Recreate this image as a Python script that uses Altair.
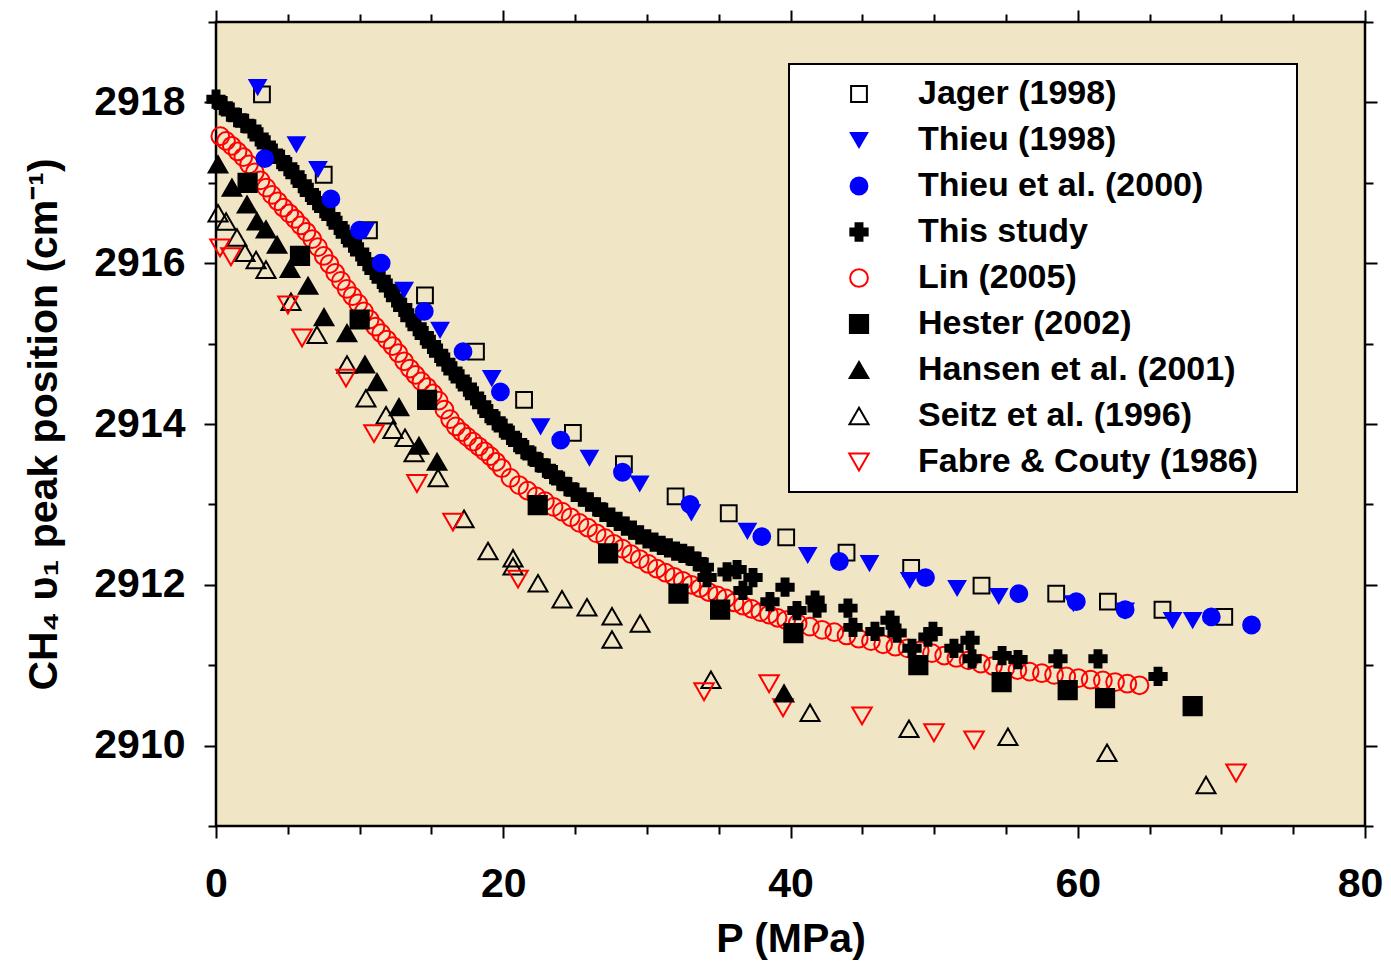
import altair as alt
import pandas as pd

# ---------------- data ----------------
series_order = [
    "Jager (1998)", "Thieu (1998)", "Thieu et al. (2000)", "This study",
    "Lin (2005)", "Hester (2002)", "Hansen et al. (2001)",
    "Seitz et al. (1996)", "Fabre & Couty (1986)",
]

jager_p = [3.2, 7.5, 10.65, 14.55, 18.1, 21.45, 24.85, 28.4, 32.0, 35.7, 39.7, 43.9,
           48.4, 53.3, 58.5, 62.1, 65.9, 70.2]
jager_v = [2918.10, 2917.10, 2916.41, 2915.60, 2914.90, 2914.30, 2913.89, 2913.50,
           2913.10, 2912.89, 2912.59, 2912.40, 2912.21, 2911.99, 2911.89, 2911.79,
           2911.69, 2911.60]

thieu98_p = [2.9, 5.6, 7.1, 10.4, 13.1, 15.6, 19.2, 22.6, 26.0, 29.5, 33.1, 37.0, 41.2,
             45.5, 48.3, 51.6, 54.5, 59.7, 63.3, 66.6, 68.0]
thieu98_v = [2918.19, 2917.48, 2917.17, 2916.41, 2915.67, 2915.17, 2914.57, 2913.97,
             2913.58, 2913.26, 2912.90, 2912.67, 2912.37, 2912.27, 2912.06, 2911.96,
             2911.86, 2911.77, 2911.68, 2911.56, 2911.56]

thieu00_p = [3.4, 8.0, 10.0, 11.5, 14.5, 17.2, 19.8, 24.0, 28.3, 33.0, 38.0, 43.4, 49.4,
             55.9, 59.9, 63.3, 69.3, 72.1]
thieu00_v = [2917.30, 2916.80, 2916.41, 2916.00, 2915.40, 2914.90, 2914.40, 2913.80,
             2913.40, 2913.00, 2912.60, 2912.29, 2912.09, 2911.89, 2911.79, 2911.69,
             2911.60, 2911.50]

study_p = [0.0, 0.5, 1.0, 1.5, 2.0, 2.5, 3.0, 3.5, 4.0, 4.5, 5.0, 5.5, 6.0, 6.5, 7.0, 7.5,
           8.0, 8.5, 9.0, 9.5, 10.0, 10.5, 11.0, 11.5, 12.0, 12.5, 13.0, 13.5, 14.0, 14.5,
           15.0, 15.5, 16.0, 16.5, 17.0, 17.5, 18.0, 18.5, 19.0, 19.5, 20.0, 20.5, 21.0,
           21.5, 22.0, 22.5, 23.0, 23.5, 24.0, 24.5, 25.0, 25.5, 26.0, 26.5, 27.0, 27.5,
           28.0, 28.5, 29.0, 29.5, 30.0, 30.5, 31.0, 31.5, 32.0, 32.5, 33.0, 33.5, 34.0,
           34.19, 35.58, 36.28, 37.39, 36.69, 38.57, 39.62, 40.45, 41.71, 41.85, 44.0,
           44.35, 45.88, 46.93, 47.42, 48.46, 49.57, 49.92, 51.38, 52.5, 52.64, 54.73,
           55.84, 58.62, 61.41, 65.59]
study_v = [2918.04, 2917.96, 2917.88, 2917.81, 2917.74, 2917.67, 2917.57, 2917.47,
           2917.37, 2917.29, 2917.20, 2917.10, 2916.99, 2916.88, 2916.78, 2916.68,
           2916.58, 2916.47, 2916.36, 2916.25, 2916.14, 2916.02, 2915.91, 2915.80,
           2915.69, 2915.57, 2915.45, 2915.32, 2915.21, 2915.10, 2914.99, 2914.88,
           2914.77, 2914.66, 2914.56, 2914.46, 2914.35, 2914.24, 2914.13, 2914.04,
           2913.95, 2913.86, 2913.77, 2913.68, 2913.60, 2913.52, 2913.45, 2913.37,
           2913.29, 2913.22, 2913.15, 2913.09, 2913.03, 2912.97, 2912.90, 2912.84,
           2912.79, 2912.73, 2912.68, 2912.62, 2912.57, 2912.53, 2912.49, 2912.46,
           2912.42, 2912.39, 2912.36, 2912.29, 2912.22,
           2912.09, 2912.16, 2912.19, 2912.09, 2911.93, 2911.79, 2911.97, 2911.68,
           2911.81, 2911.71, 2911.71, 2911.47, 2911.42, 2911.56, 2911.40, 2911.21,
           2911.35, 2911.42, 2911.21, 2911.31, 2911.08, 2911.12, 2911.07, 2911.08,
           2911.08, 2910.86]

lin_p = [0.3, 0.7, 1.1, 1.5, 1.9, 2.3, 2.7, 3.1, 3.5, 3.9, 4.3, 4.7, 5.1, 5.5, 5.9, 6.3,
         6.7, 7.1, 7.5, 7.9, 8.3, 8.7, 9.1, 9.5, 9.9, 10.3, 10.7, 11.1, 11.5, 11.9, 12.3,
         12.7, 13.1, 13.5, 13.9, 14.3, 14.7, 15.1, 15.5, 15.9, 16.3, 16.7, 17.1, 17.5,
         17.9, 18.3, 18.7, 19.1, 19.5, 19.9, 20.5, 21.1, 21.7, 22.3, 22.9, 23.5, 24.1,
         24.7, 25.3, 25.9, 26.5, 27.1, 27.7, 28.3, 28.9, 29.5, 30.1, 30.7, 31.3, 31.9,
         32.5, 33.1, 33.7, 34.3, 34.9, 35.5, 36.1, 36.7, 37.3, 37.9, 38.5, 39.1, 39.7,
         40.5, 41.35, 42.2, 43.05, 43.9, 44.75, 45.6, 46.45, 47.3, 48.15, 49.0, 49.85,
         50.7, 51.55, 52.4, 53.25, 54.1, 54.95, 55.8, 56.65, 57.5, 58.35, 59.2, 60.05,
         60.9, 61.75, 62.6, 63.45, 64.3]
lin_v = [2917.58, 2917.52, 2917.46, 2917.39, 2917.32, 2917.23, 2917.13, 2917.03, 2916.94,
         2916.85, 2916.77, 2916.69, 2916.62, 2916.55, 2916.47, 2916.39, 2916.30, 2916.20,
         2916.09, 2915.99, 2915.88, 2915.78, 2915.68, 2915.59, 2915.50, 2915.40, 2915.30,
         2915.21, 2915.13, 2915.05, 2914.97, 2914.88, 2914.78, 2914.69, 2914.61, 2914.53,
         2914.46, 2914.38, 2914.29, 2914.18, 2914.06, 2913.97, 2913.90, 2913.84, 2913.78,
         2913.72, 2913.66, 2913.60, 2913.53, 2913.45, 2913.33, 2913.24, 2913.17, 2913.10,
         2913.04, 2912.97, 2912.91, 2912.84, 2912.77, 2912.71, 2912.64, 2912.58, 2912.51,
         2912.45, 2912.38, 2912.32, 2912.26, 2912.20, 2912.15, 2912.10, 2912.05, 2912.00,
         2911.96, 2911.91, 2911.87, 2911.83, 2911.78, 2911.74, 2911.70, 2911.66, 2911.63,
         2911.59, 2911.56, 2911.52, 2911.48, 2911.44, 2911.41, 2911.37, 2911.33, 2911.30,
         2911.26, 2911.23, 2911.21, 2911.18, 2911.15, 2911.12, 2911.09, 2911.06, 2911.02,
         2910.99, 2910.96, 2910.94, 2910.92, 2910.90, 2910.88, 2910.86, 2910.84, 2910.82,
         2910.81, 2910.79, 2910.77, 2910.75]

hester_p = [2.2, 5.85, 10.0, 14.7, 22.4, 27.3, 32.2, 35.1, 40.2, 48.9, 54.7, 59.3, 61.9, 68.0]
hester_v = [2917.00, 2916.09, 2915.30, 2914.30, 2912.99, 2912.39, 2911.89, 2911.69,
            2911.40, 2911.00, 2910.79, 2910.69, 2910.59, 2910.49]

hansen_p = [0.14, 1.11, 2.16, 2.85, 3.48, 4.25, 5.15, 6.41, 7.52, 9.12, 10.37, 11.21,
            12.74, 14.13, 15.39, 39.55]
hansen_v = [2917.23, 2916.94, 2916.73, 2916.52, 2916.42, 2916.23, 2915.93, 2915.72,
            2915.33, 2915.13, 2914.74, 2914.52, 2914.21, 2913.73, 2913.53, 2910.65]

seitz_p = [0.14, 0.70, 1.46, 2.02, 2.79, 3.48, 5.22, 7.03, 9.12, 10.44, 11.84, 12.32,
           13.16, 13.79, 15.46, 17.27, 18.94, 20.68, 20.68, 22.42, 24.09, 25.83, 27.57,
           27.57, 29.53, 34.46, 41.36, 48.25, 55.14, 62.04, 68.93]
seitz_v = [2916.62, 2916.52, 2916.32, 2916.13, 2916.04, 2915.92, 2915.52, 2915.11,
           2914.74, 2914.32, 2914.11, 2913.93, 2913.83, 2913.64, 2913.33, 2912.82,
           2912.42, 2912.33, 2912.23, 2912.02, 2911.82, 2911.72, 2911.61, 2911.32,
           2911.52, 2910.82, 2910.41, 2910.21, 2910.11, 2909.91, 2909.51]

fabre_p = [0.28, 1.04, 5.01, 5.99, 9.05, 11.0, 13.99, 16.5, 21.03, 33.98, 38.51, 39.48,
           44.98, 49.99, 52.78, 71.02]
fabre_v = [2916.19, 2916.08, 2915.48, 2915.07, 2914.57, 2913.88, 2913.26, 2912.78,
           2912.07, 2910.67, 2910.77, 2910.47, 2910.37, 2910.16, 2910.07, 2909.66]

x_major = [0, 20, 40, 60, 80]
x_minor = [5, 10, 15, 25, 30, 35, 45, 50, 55, 65, 70, 75]
y_major = [2910, 2912, 2914, 2916, 2918]
y_minor = [2909, 2911, 2913, 2915, 2917, 2919]

# drawing order (later rows drawn on top)
draw_sets = [
    ("Lin (2005)", lin_p, lin_v),
    ("Seitz et al. (1996)", seitz_p, seitz_v),
    ("Fabre & Couty (1986)", fabre_p, fabre_v),
    ("Hansen et al. (2001)", hansen_p, hansen_v),
    ("This study", study_p, study_v),
    ("Hester (2002)", hester_p, hester_v),
    ("Jager (1998)", jager_p, jager_v),
    ("Thieu (1998)", thieu98_p, thieu98_v),
    ("Thieu et al. (2000)", thieu00_p, thieu00_v),
]
rows = []
order = 0
for name, ps, vs in draw_sets:
    for p, v in zip(ps, vs):
        rows.append({"P": p, "v": v, "series": name, "ord": order})
        order += 1
df = pd.DataFrame(rows)

# ---------------- styling ----------------
FONT = "Liberation Sans"
BLUE = "#0000FF"
RED = "#FF0000"
shape_range = ["square", "triangle-down", "circle", "cross", "circle", "square",
               "triangle-up", "triangle-up", "triangle-down"]
fill_range = ["transparent", BLUE, BLUE, "black", "transparent", "black", "black",
              "transparent", "transparent"]
stroke_range = ["black", BLUE, BLUE, "black", RED, "black", "black", "black", RED]
size_range = [250, 380, 420, 330, 380, 290, 380, 400, 400]

legend = alt.Legend(
    title=".", titleOrient="right", titleColor="transparent", titleFontSize=34,
    titleFont=FONT, titleFontWeight="bold", titlePadding=16,
    orient="none", legendX=573, legendY=42,
    padding=13, rowPadding=12, symbolOffset=40, labelOffset=42,
    labelFont=FONT, labelFontSize=34, labelFontWeight="bold", labelColor="black",
    labelLimit=600, fillColor="white", strokeColor="black", symbolStrokeWidth=2,
)

xscale = alt.Scale(domain=[0, 80], nice=False, zero=False)
yscale = alt.Scale(domain=[2909, 2919], nice=False, zero=False)

tick_common = dict(grid=False, domain=False, tickColor="black", tickWidth=2,
                   labelFont=FONT, labelFontWeight="bold", labelColor="black",
                   labelFontSize=41, labelOverlap=False, labelFlush=False)

x_main = alt.Axis(orient="bottom", values=x_major, tickSize=12, labelPadding=26,
                  labelOffset={"condition": {"test": "datum.value == 80", "value": -5},
                               "value": 0},
                  title="P (MPa)", titleFont=FONT, titleFontSize=41,
                  titleFontWeight="bold", titleColor="black", titlePadding=15,
                  **tick_common)
y_main = alt.Axis(orient="left", values=y_major, tickSize=12, labelPadding=19,
                  format="d", title="CH\u2084 \u03c5\u2081 peak position (cm\u207b\u00b9)",
                  titleFont=FONT, titleFontSize=41, titleFontWeight="bold",
                  titleColor="black", titlePadding=28, **tick_common)


def plain_axis(orient, values, size):
    return alt.Axis(orient=orient, values=values, tickSize=size, labels=False,
                    title=None, grid=False, domain=False, tickColor="black",
                    tickWidth=2)


points = alt.Chart(df).mark_point(filled=True, opacity=1, strokeWidth=2).encode(
    x=alt.X("P:Q", scale=xscale, axis=x_main),
    y=alt.Y("v:Q", scale=yscale, axis=y_main),
    shape=alt.Shape("series:N", scale=alt.Scale(domain=series_order, range=shape_range),
                    legend=legend),
    fill=alt.Fill("series:N", scale=alt.Scale(domain=series_order, range=fill_range),
                  legend=legend),
    stroke=alt.Stroke("series:N", scale=alt.Scale(domain=series_order, range=stroke_range),
                      legend=legend),
    size=alt.Size("series:N", scale=alt.Scale(domain=series_order, range=size_range),
                  legend=legend),
    order=alt.Order("ord:Q"),
)


def tick_layer(xo, xv, xs, yo, yv, ys):
    return alt.Chart(df).mark_point(opacity=0).encode(
        x=alt.X("P:Q", scale=xscale, axis=plain_axis(xo, xv, xs)),
        y=alt.Y("v:Q", scale=yscale, axis=plain_axis(yo, yv, ys)),
    )


chart = alt.layer(
    points,
    tick_layer("bottom", x_minor, 8, "left", y_minor, 8),
    tick_layer("top", x_major, 12, "right", y_major, 12),
    tick_layer("top", x_minor, 8, "right", y_minor, 8),
).resolve_axis(x="independent", y="independent").properties(
    width=1149, height=804,
    autosize=alt.AutoSizeParams(type="none"),
    padding={"left": 208, "top": 14, "right": 18, "bottom": 135},
).configure_view(
    fill="#F0E6C6", stroke="black", strokeWidth=2.5,
).configure_legend(
    strokeWidth=2,
)

chart.save("out.html", embed_options={"renderer": "svg", "actions": False})
